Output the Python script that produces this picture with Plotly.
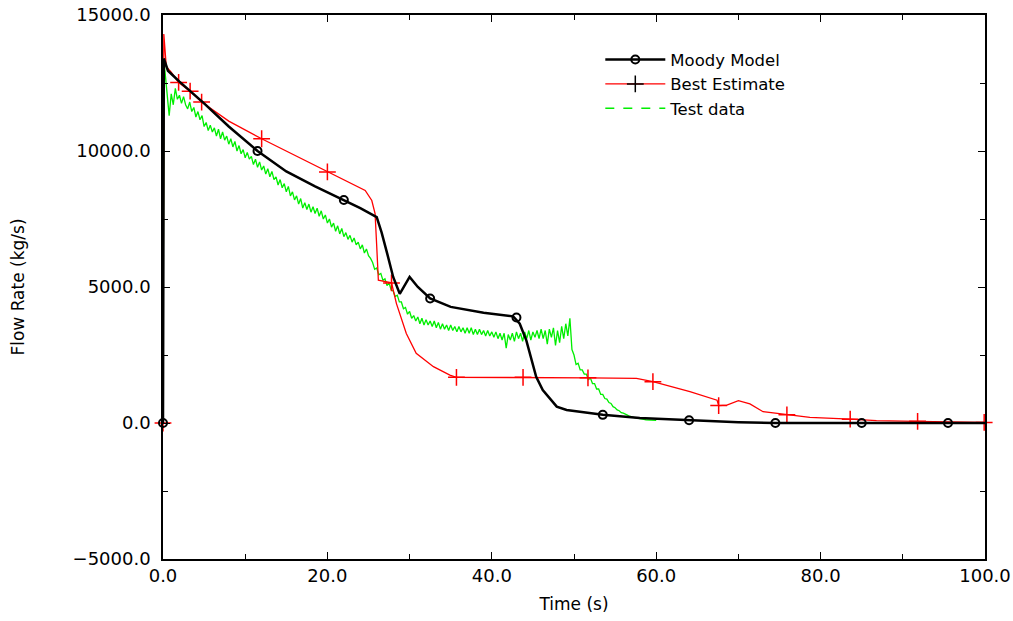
import plotly.graph_objects as go

# ---------------- data ----------------
# Moody Model (black line, open-circle markers)
moody_t = [0, 0.1, 0.6, 2, 5, 8, 11.5, 15, 18.5, 22, 24, 26, 26.6, 27.3, 28, 28.8,
           29.3, 30, 31, 32.5, 35, 39, 42.6, 43.4, 44.2, 45.4, 46.2, 47.9, 49.1,
           53.5, 58, 64, 70, 74.5, 85, 95.5, 100]
moody_v = [0, 13400, 12950, 12550, 11750, 10900, 10000, 9250, 8700, 8200, 7900, 7570,
           7000, 6200, 5370, 4750, 5000, 5370, 5000, 4580, 4270, 4050, 3920, 3650, 3040,
           1700, 1210, 600, 480, 300, 180, 100, 30, 0, 0, 0, 0]
moody_mk_t = [0, 11.5, 22, 32.5, 43, 53.5, 64, 74.5, 85, 95.5]
moody_mk_v = [0, 10000, 8200, 4580, 3880, 300, 100, 0, 0, 0]

# Best Estimate (red line, plus markers)
best_t = [0, 0.1, 0.4, 1, 1.9, 3.3, 4.7, 8, 12, 16, 20, 23, 24.6, 25.4, 25.8, 26.0,
          26.2, 27.8, 28.4, 29.6, 30.8, 32.9, 34.9, 35.7, 43.8, 51.7, 57.6, 59.6, 64.1,
          67.4, 67.6, 68.6, 70.0, 71.4, 73.0, 75.9, 78.7, 83.6, 86.8, 91.7, 100]
best_v = [0, 14300, 13100, 12900, 12520, 12200, 11800, 11100, 10450, 9850, 9230, 8800,
          8550, 8180, 7700, 6500, 5250, 5150, 4390, 3290, 2560, 2070, 1760, 1680, 1680,
          1660, 1640, 1520, 1150, 840, 640, 660, 820, 700, 415, 300, 210, 140, 90, 60, 20]
best_mk_t = [0, 1.9, 3.3, 4.7, 12, 20, 27.8, 35.7, 43.8, 51.7, 59.6, 67.6, 75.9, 83.6, 91.8, 99.9]
best_mk_v = [0, 12520, 12200, 11800, 10450, 9230, 5150, 1680, 1680, 1660, 1520, 640, 300, 140, 60, 20]

# Test data (green, noisy measurement): initial rise, then samples every 0.25 s
test_start_t = [0, 0.1]
test_start_v = [0, 13300]
TEST_DT = 0.25
test_v = [
    12900, 12200, 11300, 12100, 11700, 12300, 11900, 12050,
    11750, 12000, 11700, 11550, 11800, 11450, 11600, 11250,
    11450, 11150, 11300, 10900, 11050, 10750, 10950, 10700,
    10850, 10550, 10800, 10450, 10700, 10400, 10550, 10250,
    10450, 10150, 10350, 10000, 10200, 9900, 10050, 9750,
    9950, 9700, 9800, 9500, 9700, 9400, 9600, 9300,
    9450, 9150, 9350, 9050, 9250, 8950, 9050, 8750,
    8950, 8650, 8800, 8500, 8700, 8350, 8500, 8200,
    8350, 8050, 8250, 7900, 8100, 7850, 8050, 7750,
    7950, 7700, 7900, 7600, 7800, 7500, 7650, 7350,
    7500, 7200, 7350, 7050, 7250, 6950, 7150, 6850,
    7000, 6750, 6900, 6650, 6800, 6550, 6650, 6400,
    6550, 6250, 6400, 6150, 6050, 5900, 5650, 5700,
    5450, 5500, 5250, 5300, 5050, 5150, 4900, 4850,
    4650, 4700, 4450, 4450, 4200, 4250, 4000, 4100,
    3850, 3950, 3750, 3900, 3650, 3850, 3600, 3800,
    3600, 3750, 3550, 3750, 3500, 3700, 3450, 3650,
    3450, 3600, 3400, 3600, 3400, 3550, 3350, 3550,
    3350, 3500, 3300, 3500, 3300, 3500, 3250, 3450,
    3250, 3450, 3250, 3400, 3200, 3400, 3200, 3350,
    3150, 3350, 3100, 3300, 3050, 3300, 2750, 3250,
    3050, 3300, 3000, 3350, 3100, 3300, 3000, 3350,
    3100, 3400, 3050, 3350, 3150, 3400, 3100, 3450,
    3100, 3400, 2900, 3450, 3150, 3500, 2850, 3400,
    2950, 3550, 3100, 3650, 3200, 3850, 2700, 2500,
    2150, 2200, 1950, 1950, 1800, 1800, 1600, 1650,
    1450, 1450, 1250, 1250, 1050, 1050, 900, 880,
    750, 720, 600, 560, 480, 450, 380, 360,
    310, 290, 250, 240, 210, 190, 170, 160,
    140, 130, 120, 115, 110, 105, 100, 95,
]
test_t = test_start_t + [TEST_DT * (i + 1) for i in range(len(test_v))]
test_all_v = test_start_v + test_v

x_ticks = [0, 20, 40, 60, 80, 100]
y_ticks = [-5000, 0, 5000, 10000, 15000]

FONT = "DejaVu Sans"

fig = go.Figure()

# data traces
fig.add_trace(go.Scatter(x=test_t, y=test_all_v, mode="lines",
                         line=dict(color="#00ee00", width=1.3),
                         showlegend=False, hoverinfo="skip"))
fig.add_trace(go.Scatter(x=best_t, y=best_v, mode="lines",
                         line=dict(color="#ff0000", width=1.3),
                         showlegend=False))
fig.add_trace(go.Scatter(x=best_mk_t, y=best_mk_v, mode="markers", cliponaxis=False,
                         marker=dict(symbol="cross-thin", size=12, color="#ff0000",
                                     line=dict(color="#ff0000", width=1.5)),
                         showlegend=False))
fig.add_trace(go.Scatter(x=moody_t, y=moody_v, mode="lines",
                         line=dict(color="black", width=2.5),
                         showlegend=False))
fig.add_trace(go.Scatter(x=moody_mk_t, y=moody_mk_v, mode="markers", cliponaxis=False,
                         marker=dict(symbol="circle-open", size=8, color="black",
                                     line=dict(color="black", width=2)),
                         showlegend=False))

# legend entries
fig.add_trace(go.Scatter(x=[None], y=[None], mode="lines+markers", name="Moody Model",
                         line=dict(color="black", width=2.5),
                         marker=dict(symbol="circle-open", size=8, color="black",
                                     line=dict(color="black", width=2))))
fig.add_trace(go.Scatter(x=[None], y=[None], mode="lines+markers", name="Best Estimate",
                         line=dict(color="#ff0000", width=1.3),
                         marker=dict(symbol="cross-thin", size=12, color="black",
                                     line=dict(color="black", width=1.5))))
fig.add_trace(go.Scatter(x=[None], y=[None], mode="lines", name="Test data",
                         line=dict(color="#00ee00", width=1.5, dash="dash")))

axis_common = dict(
    showgrid=False, zeroline=False, showline=True, linecolor="black", linewidth=1.5,
    mirror="ticks", ticks="inside", tickcolor="black", ticklen=7, tickwidth=1.2,
    tickfont=dict(family=FONT, size=18, color="black"), tickformat=".1f",
    automargin=False, ticklabeloverflow="allow",
)

fig.update_layout(
    width=1013, height=621,
    margin=dict(l=163, r=28, t=15, b=62),
    paper_bgcolor="white", plot_bgcolor="white",
    font=dict(family=FONT, size=17, color="black"),
    xaxis=dict(range=[0, 100], tickvals=x_ticks,
               minor=dict(dtick=10, ticks="inside", ticklen=5, tickcolor="black"),
               title=dict(text="Time (s)", font=dict(family=FONT, size=17), standoff=13),
               **axis_common),
    yaxis=dict(range=[-5000, 15000], tickvals=y_ticks, ticklabelstandoff=7,
               minor=dict(dtick=2500, ticks="inside", ticklen=5, tickcolor="black"),
               title=dict(text="Flow Rate (kg/s)", font=dict(family=FONT, size=17), standoff=44),
               **axis_common),
    legend=dict(x=0.532, y=0.95, xanchor="left", yanchor="top",
                bgcolor="rgba(0,0,0,0)", borderwidth=0,
                font=dict(family=FONT, size=16.5), itemwidth=60, tracegroupgap=0),
)

fig.write_html("out.html", config={"displayModeBar": False},
               post_script="document.body.style.margin='0';")
